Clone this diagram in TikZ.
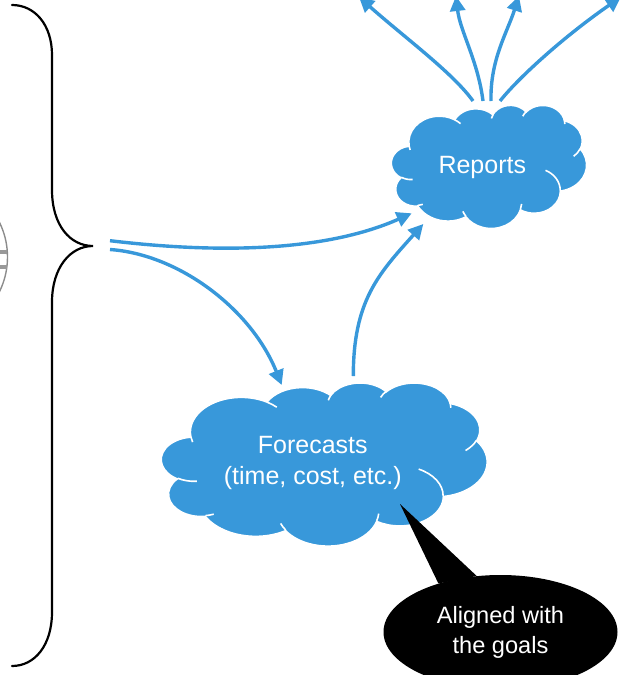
\documentclass[tikz,border=0pt]{standalone}
\usepackage{fontspec}
\setmainfont{Liberation Sans}
\usetikzlibrary{arrows.meta,shapes.geometric}
\definecolor{cblue}{RGB}{56,152,218}

% convert DrawingML visual arc angles into parametric TikZ angles
\newcommand\prepArc[6]{%
  \pgfmathsetmacro\cldA{atan2((#3)*sin(#5),(#4)*cos(#5))}%
  \pgfmathsetmacro\cldB{atan2((#3)*sin((#5)+(#6)),(#4)*cos((#5)+(#6)))}%
  \pgfmathsetmacro\cldD{Mod(\cldB-\cldA,360)}%
  \pgfmathsetmacro\cldE{ifthenelse((#6)>0,\cldD,\cldD-360)}%
  \xdef#1{\cldA}\xdef#2{\cldE}}
% outline arcs
\prepArc\cSa\cDa{67.53}{91.90}{-190.4875}{123.7805}
\prepArc\cSb\cDb{53.33}{72.67}{-144.1024}{89.9452}
\prepArc\cSc\cDc{43.65}{59.45}{-145.8079}{99.7230}
\prepArc\cSd\cDd{48.57}{65.95}{-130.9861}{117.2417}
\prepArc\cSe\cDe{53.33}{72.73}{-78.7089}{109.0269}
\prepArc\cSf\cDf{67.75}{92.20}{-46.2673}{130.2690}
\prepArc\cSg\cDg{57.85}{78.67}{0.6250}{114.0333}
\prepArc\cSh\cDh{67.52}{92.15}{22.4516}{115.1726}
\prepArc\cSi\cDi{77.20}{105.43}{66.2426}{75.7110}
\prepArc\cSj\cDj{43.60}{59.18}{-274.9421}{146.7356}
\prepArc\cSk\cDk{43.45}{59.45}{-246.8285}{152.5189}
% inner arcs
\prepArc\iSa\iDa{43.45}{59.45}{86.7420}{26.4295}
\prepArc\iSb\iDb{43.60}{59.18}{73.6105}{11.4475}
\prepArc\iSc\iDc{67.52}{92.15}{137.6242}{14.0811}
\prepArc\iSd\iDd{67.52}{92.15}{6.4533}{15.9984}
\prepArc\iSe\iDe{57.85}{78.67}{-70.2924}{70.9174}
\prepArc\iSf\iDf{53.33}{72.73}{30.3180}{27.7515}
\prepArc\iSg\iDg{48.57}{65.95}{-13.7443}{14.8589}
\prepArc\iSh\iDh{48.57}{65.95}{-149.1815}{18.1954}
\prepArc\iSi\iDi{43.65}{59.45}{-163.4943}{17.6864}
\prepArc\iSj\iDj{67.53}{91.90}{-66.7070}{12.3194}
\prepArc\iSk\iDk{67.53}{91.90}{157.6544}{11.8582}

\newcommand\cloudshape{%
  \filldraw[cloudbody] (39.00,143.70)
    arc[x radius=67.53,y radius=91.90,start angle=\cSa,delta angle=\cDa]
    arc[x radius=53.33,y radius=72.67,start angle=\cSb,delta angle=\cDb]
    arc[x radius=43.65,y radius=59.45,start angle=\cSc,delta angle=\cDc]
    arc[x radius=48.57,y radius=65.95,start angle=\cSd,delta angle=\cDd]
    arc[x radius=53.33,y radius=72.73,start angle=\cSe,delta angle=\cDe]
    arc[x radius=67.75,y radius=92.20,start angle=\cSf,delta angle=\cDf]
    arc[x radius=57.85,y radius=78.67,start angle=\cSg,delta angle=\cDg]
    arc[x radius=67.52,y radius=92.15,start angle=\cSh,delta angle=\cDh]
    arc[x radius=77.20,y radius=105.43,start angle=\cSi,delta angle=\cDi]
    arc[x radius=43.60,y radius=59.18,start angle=\cSj,delta angle=\cDj]
    arc[x radius=43.45,y radius=59.45,start angle=\cSk,delta angle=\cDk]
    -- cycle;
  \draw[cloudvein]
    (46.93,261.77) arc[x radius=43.45,y radius=59.45,start angle=\iSa,delta angle=\iDa]
    (69.28,348.99) arc[x radius=43.60,y radius=59.18,start angle=\iSb,delta angle=\iDb]
    (164.78,390.90) arc[x radius=67.52,y radius=92.15,start angle=\iSc,delta angle=\iDc]
    (288.27,347.51) arc[x radius=67.52,y radius=92.15,start angle=\iSd,delta angle=\iDd]
    (341.29,229.54) arc[x radius=57.85,y radius=78.67,start angle=\iSe,delta angle=\iDe]
    (417.98,153.54) arc[x radius=53.33,y radius=72.73,start angle=\iSf,delta angle=\iDf]
    (383.24,54.26) arc[x radius=48.57,y radius=65.95,start angle=\iSg,delta angle=\iDg]
    (290.78,39.52) arc[x radius=48.57,y radius=65.95,start angle=\iSh,delta angle=\iDh]
    (221.41,47.20) arc[x radius=43.65,y radius=59.45,start angle=\iSi,delta angle=\iDi]
    (140.00,51.92) arc[x radius=67.53,y radius=91.90,start angle=\iSj,delta angle=\iDj]
    (41.27,157.89) arc[x radius=67.53,y radius=91.90,start angle=\iSk,delta angle=\iDk];
}

\begin{document}
\begin{tikzpicture}[x=1pt,y=-1pt,
  cloudbody/.style={fill=cblue,draw=white,line width=1.5pt},
  cloudvein/.style={draw=white,line width=1.6pt},
  flow/.style={draw=cblue,line width=3.4pt,-{Triangle[length=15pt,width=15pt]}},
  bracket/.style={draw=black,line width=2.2pt,line cap=round},
  lbl/.style={text=white,font=\fontsize{25}{30.5}\selectfont,align=center,inner sep=0pt},
  goalbox/.style={ellipse,fill=black,text=white,font=\fontsize{23.6}{30}\selectfont,
    align=center,inner sep=0pt,minimum width=234pt,minimum height=114pt},
  globe/.style={draw=gray!90,line width=1.4pt},
  globebar/.style={draw=gray!80,line width=4pt}]
\useasboundingbox (0,0) rectangle (620,675);
\clip (0,0) rectangle (620,675);

% partial globe at the left edge
\draw[globe] (-71,257) circle (78.5);
\coordinate (gb1) at (0,251.5);
\coordinate (gb2) at (7,251.5);
\coordinate (gb3) at (0,267.3);
\coordinate (gb4) at (6.5,267.3);
\draw[globebar] (gb1) -- (gb2);
\draw[globebar] (gb3) -- (gb4);

% curly bracket
\coordinate (brtop) at (12,5);
\coordinate (brtip) at (93,246);
\coordinate (brbot) at (12,666);
\draw[bracket] (brtop) .. controls +(23,0) and +(0,-30) .. (52,55) -- (52,190)
  .. controls +(0,35) and +(-23,0) .. (brtip)
  .. controls +(-23,0) and +(0,-34) .. (52,302) -- (52,612)
  .. controls +(0,33) and +(23,0) .. (brbot);

% clouds
\begin{scope}[shift={(391.5,105)},x=0.45139pt,y=-0.28472pt]
  \cloudshape
\end{scope}
\begin{scope}[shift={(161.5,382.5)},x=0.75347pt,y=-0.37731pt]
  \cloudshape
\end{scope}
\node[lbl] (reports) at (482.3,167) {Reports};
\node[lbl] (forecasts) at (312.8,463) {Forecasts\\(time, cost, etc.)};

% connector end points
\coordinate (s1) at (110,240.7);
\coordinate (s2) at (110,249.5);
\coordinate (r1) at (411.7,213.3);
\coordinate (r2) at (423.3,224);
\coordinate (f1) at (281.7,385);
\coordinate (f2) at (353.3,376);
\coordinate (t1) at (473,101);
\coordinate (t2) at (483,101);
\coordinate (t3) at (491,101);
\coordinate (t4) at (500,101);
\coordinate (e1) at (359,-3);
\coordinate (e2) at (456,-4);
\coordinate (e3) at (519,-4);
\coordinate (e4) at (621,-3);

\draw[flow] (s1) .. controls +(100,12) and +(-90,40) .. (r1);
\draw[flow] (s2) .. controls +(70,5) and +(-30,-75) .. (f1);
\draw[flow] (f2) .. controls +(0,-75) and +(-45,50) .. (r2);
\draw[flow] (t1) .. controls +(-20,-28) and +(45,40) .. (e1);
\draw[flow] (t2) .. controls +(-5,-40) and +(4,35) .. (e2);
\draw[flow] (t3) .. controls +(-1,-41) and +(-12,37) .. (e3);
\draw[flow] (t4) .. controls +(20,-25) and +(-55,38) .. (e4);

% callout
\node[goalbox] (goal) at (500.5,632) {Aligned with\\the goals};
\coordinate (ptip) at (400,504);
\fill[black] (goal.142) -- (ptip) -- (goal.113) -- cycle;
\end{tikzpicture}
\end{document}
